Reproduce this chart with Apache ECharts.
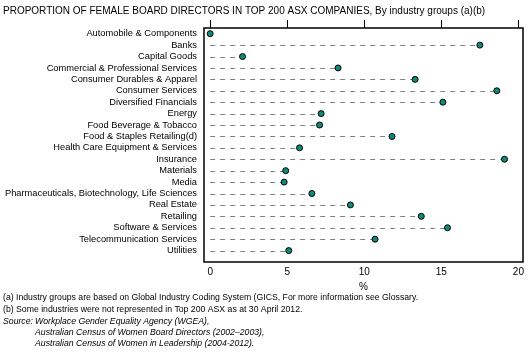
<!DOCTYPE html>
<html>
<head>
<meta charset="utf-8">
<script src="https://cdn.jsdelivr.net/npm/echarts@6/dist/echarts.min.js"></script>
<style>
html,body{margin:0;padding:0;background:#fff;}
#c{width:529px;height:363px;}
</style>
</head>
<body>
<div id="c"></div>
<script>
const categories = [
  'Automobile & Components',
  'Banks',
  'Capital Goods',
  'Commercial & Professional Services',
  'Consumer Durables & Apparel',
  'Consumer Services',
  'Diversified Financials',
  'Energy',
  'Food Beverage & Tobacco',
  'Food & Staples Retailing(d)',
  'Health Care Equipment & Services',
  'Insurance',
  'Materials',
  'Media',
  'Pharmaceuticals, Biotechnology, Life Sciences',
  'Real Estate',
  'Retailing',
  'Software & Services',
  'Telecommunication Services',
  'Utilities'
];
const values = [0, 17.5, 2.1, 8.3, 13.3, 18.6, 15.1, 7.2, 7.1, 11.8, 5.8, 19.1, 4.9, 4.8, 6.6, 9.1, 13.7, 15.4, 10.7, 5.1];
const xTicks = [0, 5, 10, 15, 20];
const titleText = 'PROPORTION OF FEMALE BOARD DIRECTORS IN TOP 200 ASX COMPANIES, By industry groups (a)(b)';
const noteA = '(a) Industry groups are based on Global Industry Coding System (GICS, For more information see Glossary.';
const noteB = '(b) Some industries were not represented in Top 200 ASX as at 30 April 2012.';
const sourceLabel = 'Source:';
const sourceLines = [
  'Workplace Gender Equality Agency (WGEA),',
  'Australian Census of Women Board Directors (2002\u20132003),',
  'Australian Census of Women in Leadership (2004-2012).'
];

const FONT = '"Liberation Sans", Arial, sans-serif';
const chart = echarts.init(document.getElementById('c'), null, {renderer: 'canvas'});
const idx = categories.map((_, i) => i);
const pts = values.map((v, i) => [v, i]);

function txt(x, y, text, font) {
  return {type: 'text', x: x, y: y, silent: true,
    style: {text: text, font: font, fill: '#000', verticalAlign: 'middle', align: 'left'}};
}
const NOTE = '8.7px ' + FONT;
const INOTE = 'italic 8.7px ' + FONT;

chart.setOption({
  animation: false,
  backgroundColor: '#fff',
  textStyle: {fontFamily: FONT},
  graphic: [
    txt(3, 11, titleText, '10px ' + FONT),
    txt(3, 298, noteA, NOTE),
    txt(3, 309.5, noteB, NOTE),
    txt(3, 321.5, sourceLabel, INOTE),
    txt(35, 321.5, sourceLines[0], INOTE),
    txt(35, 332.5, sourceLines[1], INOTE),
    txt(35, 343.5, sourceLines[2], INOTE)
  ],
  grid: {left: 204, right: 6, top: 28, bottom: 101, show: true, borderColor: '#000', borderWidth: 1.5,
    backgroundColor: 'transparent', containLabel: false, outerBoundsMode: 'none'},
  xAxis: [
    {
      type: 'value', position: 'bottom', min: -0.4, max: 20.3,
      axisLine: {show: false}, axisTick: {show: false}, splitLine: {show: false},
      axisLabel: {customValues: xTicks, color: '#000', fontSize: 10, margin: 5, fontFamily: FONT},
      name: '%', nameLocation: 'middle', nameGap: 18,
      nameTextStyle: {color: '#000', fontSize: 10, fontFamily: FONT}
    },
    {
      type: 'value', position: 'top', min: -0.4, max: 20.3,
      axisLine: {show: false}, splitLine: {show: false},
      axisTick: {show: true, customValues: xTicks, length: 8, inside: false, lineStyle: {color: '#000', width: 1}},
      axisLabel: {show: false}
    }
  ],
  yAxis: {
    type: 'value', inverse: true, min: -0.5, max: 20,
    axisLine: {show: false}, axisTick: {show: false}, splitLine: {show: false},
    axisLabel: {
      customValues: idx, color: '#000', fontSize: 9.3, margin: 7, fontFamily: FONT,
      formatter: v => categories[Math.round(v)]
    }
  },
  series: [
    {
      type: 'custom', xAxisIndex: 0, yAxisIndex: 0, data: pts, silent: true, z: 1,
      renderItem: function (params, api) {
        const a = api.coord([0, api.value(1)]);
        const b = api.coord([api.value(0), api.value(1)]);
        const y = Math.round(a[1]) + 0.5;
        return {type: 'line', shape: {x1: a[0], y1: y, x2: b[0], y2: y},
          style: {stroke: '#808080', lineWidth: 1, lineDash: [5, 5]}};
      }
    },
    {
      type: 'scatter', xAxisIndex: 0, yAxisIndex: 0, data: pts, z: 3,
      symbol: 'circle', symbolSize: 6,
      itemStyle: {color: '#0f8a7a', borderColor: '#000', borderWidth: 1, opacity: 1}
    }
  ]
});
</script>
</body>
</html>
